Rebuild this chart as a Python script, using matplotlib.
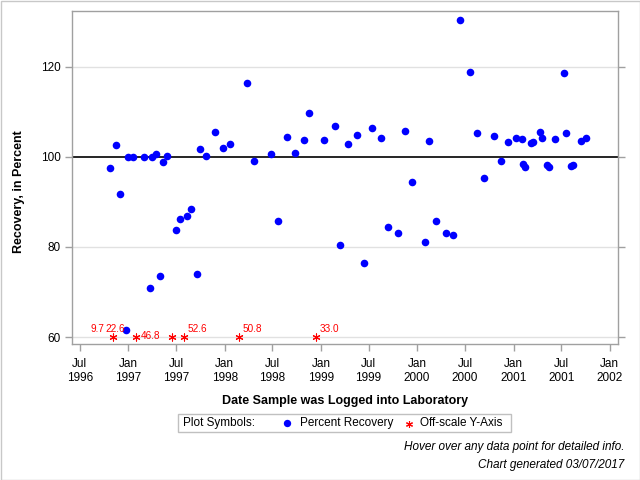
import datetime
import matplotlib
matplotlib.use("Agg")
import matplotlib.pyplot as plt
from matplotlib.lines import Line2D
from matplotlib.patches import Rectangle

plt.rcParams['font.family'] = ['Liberation Sans', 'DejaVu Sans']

# percent recovery by log date
recovery_dates = [
    "1996-10-23", "1996-11-15", "1996-11-30", "1996-12-23", "1997-01-01",
    "1997-01-20", "1997-03-01", "1997-03-22", "1997-03-31", "1997-04-16",
    "1997-04-29", "1997-05-12", "1997-05-27", "1997-06-30", "1997-07-15",
    "1997-08-11", "1997-08-26", "1997-09-17", "1997-09-29", "1997-10-22",
    "1997-11-25", "1997-12-26", "1998-01-21", "1998-03-26", "1998-04-22",
    "1998-06-25", "1998-07-22", "1998-08-25", "1998-09-24", "1998-10-28",
    "1998-11-17", "1999-01-13", "1999-02-24", "1999-03-13", "1999-04-13",
    "1999-05-18", "1999-06-14", "1999-07-14", "1999-08-17", "1999-09-13",
    "1999-10-22", "1999-11-16", "1999-12-13", "2000-01-31", "2000-02-16",
    "2000-03-13", "2000-04-20", "2000-05-17", "2000-06-12", "2000-07-20",
    "2000-08-16", "2000-09-11", "2000-10-19", "2000-11-14", "2000-12-11",
    "2001-01-10", "2001-02-02", "2001-02-06", "2001-02-14", "2001-03-09",
    "2001-03-14", "2001-04-12", "2001-04-20", "2001-05-06", "2001-05-16",
    "2001-06-08", "2001-07-12", "2001-07-20", "2001-08-08", "2001-08-15",
    "2001-09-13", "2001-10-01",
]
recovery_pct = [
    97.5, 102.6, 91.8, 61.5, 99.9,
    99.9, 99.9, 71.0, 99.9, 100.6,
    73.6, 98.8, 100.2, 83.8, 86.2,
    86.9, 88.4, 73.9, 101.7, 100.2,
    105.5, 101.9, 102.8, 116.3, 99.0,
    100.6, 85.8, 104.4, 100.8, 103.7,
    109.7, 103.7, 106.8, 80.5, 102.8,
    104.8, 76.5, 106.3, 104.1, 84.5,
    83.1, 105.7, 94.4, 81.1, 103.5,
    85.8, 83.1, 82.7, 130.4, 118.9,
    105.2, 95.3, 104.6, 99.0, 103.2,
    104.1, 103.9, 98.4, 97.7, 103.0,
    103.2, 105.5, 104.1, 98.2, 97.7,
    103.9, 118.5, 105.2, 97.9, 98.2,
    103.5, 104.1,
]

# values below the axis floor
offscale_dates = ["1996-11-03", "1997-01-31", "1997-06-17", "1997-07-31",
                  "1998-02-24", "1998-12-15"]
offscale_pct = [9.7, 22.6, 46.8, 52.6, 50.8, 33.0]

tick_dates = ["1996-07-01", "1997-01-01", "1997-07-01", "1998-01-01",
              "1998-07-01", "1999-01-01", "1999-07-01", "2000-01-01",
              "2000-07-01", "2001-01-01", "2001-07-01", "2002-01-01"]
tick_labels = ["Jul\n1996", "Jan\n1997", "Jul\n1997", "Jan\n1998",
               "Jul\n1998", "Jan\n1999", "Jul\n1999", "Jan\n2000",
               "Jul\n2000", "Jan\n2001", "Jul\n2001", "Jan\n2002"]
y_ticks = [60, 80, 100, 120]

Y_FLOOR = 60
# label placement for off-scale values (offset points, alignment)
label_place = [(-6.2, 6, "right"), (-8.0, 6, "right"), (-8.9, 1, "right"),
               (2.4, 5.8, "left"), (2.4, 5.8, "left"), (2.2, 5.8, "left")]

W, H = 640, 480


def to_date(s):
    return datetime.datetime.strptime(s, "%Y-%m-%d")


def fx(x):
    return x / W


def fy(y):
    return 1 - y / H


GRAY = "#a0a0a0"
fig = plt.figure(figsize=(6.4, 4.8), dpi=100)
ax = fig.add_axes([fx(72), fy(344.3), fx(618) - fx(72), fy(11.3) - fy(344.3)])

ax.axhline(100, color="black", lw=1.2, zorder=1)
for v in [60, 80, 120]:
    ax.axhline(v, color="#e1e1e1", lw=1, zorder=0)

ax.scatter([to_date(d) for d in recovery_dates], recovery_pct,
           s=30, color="#0000ff", zorder=3, linewidths=0)
star_y = [max(v, Y_FLOOR) for v in offscale_pct]
od = [to_date(d) for d in offscale_dates]
ax.scatter(od, star_y, marker=(6, 2, 0), s=26, color="#ff0000",
           linewidths=0.8, zorder=4, clip_on=False)
for d, y, v, (dx, dy, ha) in zip(od, star_y, offscale_pct, label_place):
    ax.annotate(f"{v:.1f}", xy=(d, y), xytext=(dx, dy), textcoords="offset points",
                ha=ha, va="center", color="#ff0000", fontsize=7.2, zorder=5)

ax.set_xlim(to_date("1996-06-01"), to_date("2002-02-01"))
ax.set_ylim(58.4, 132.3)
ax.set_xticks([to_date(d) for d in tick_dates])
ax.set_xticklabels(tick_labels, fontsize=8.5)
ax.set_yticks(y_ticks)
ax.set_yticklabels([str(v) for v in y_ticks], fontsize=8.5)
ax.tick_params(axis="both", direction="out", length=5, width=1, color=GRAY, pad=3)
ax.tick_params(axis="x", pad=5)
ax.tick_params(axis="y", right=True)
for sp in ax.spines.values():
    sp.set_color(GRAY)
    sp.set_linewidth(1)

fig.text(fx(19), fy(192), "Recovery, in Percent", rotation=90, ha="center",
         va="center", fontsize=9, fontweight="bold")
fig.text(fx(345), fy(401), "Date Sample was Logged into Laboratory",
         ha="center", va="center", fontsize=9, fontweight="bold")

# legend box
fig.add_artist(Rectangle((fx(178), fy(432)), fx(511) - fx(178), fy(414) - fy(432),
                         transform=fig.transFigure, fill=False, edgecolor="#c0c0c0", lw=1))
fig.text(fx(183), fy(423), "Plot Symbols:", ha="left", va="center", fontsize=8.5)
fig.add_artist(Line2D([fx(287)], [fy(423)], marker="o", color="#0000ff",
                      markersize=5.3, markeredgewidth=0, transform=fig.transFigure))
fig.text(fx(300), fy(423), "Percent Recovery", ha="left", va="center", fontsize=8.5)
fig.add_artist(Line2D([fx(409)], [fy(424)], marker=(6, 2, 0), color="#ff0000",
                      markersize=5, markeredgewidth=0.8, transform=fig.transFigure))
fig.text(fx(420), fy(423), "Off-scale Y-Axis", ha="left", va="center", fontsize=8.5)

fig.text(fx(624), fy(447), "Hover over any data point for detailed info.",
         ha="right", va="center", fontsize=8.5, style="italic")
fig.text(fx(624), fy(465), "Chart generated 03/07/2017",
         ha="right", va="center", fontsize=8.5, style="italic")

fig.add_artist(Rectangle((0.5 / W, 0.5 / H), 1 - 1 / W, 1 - 1 / H,
                         transform=fig.transFigure, fill=False, edgecolor="#c8c8c8", lw=1))

fig.savefig("out.png", dpi=100)
